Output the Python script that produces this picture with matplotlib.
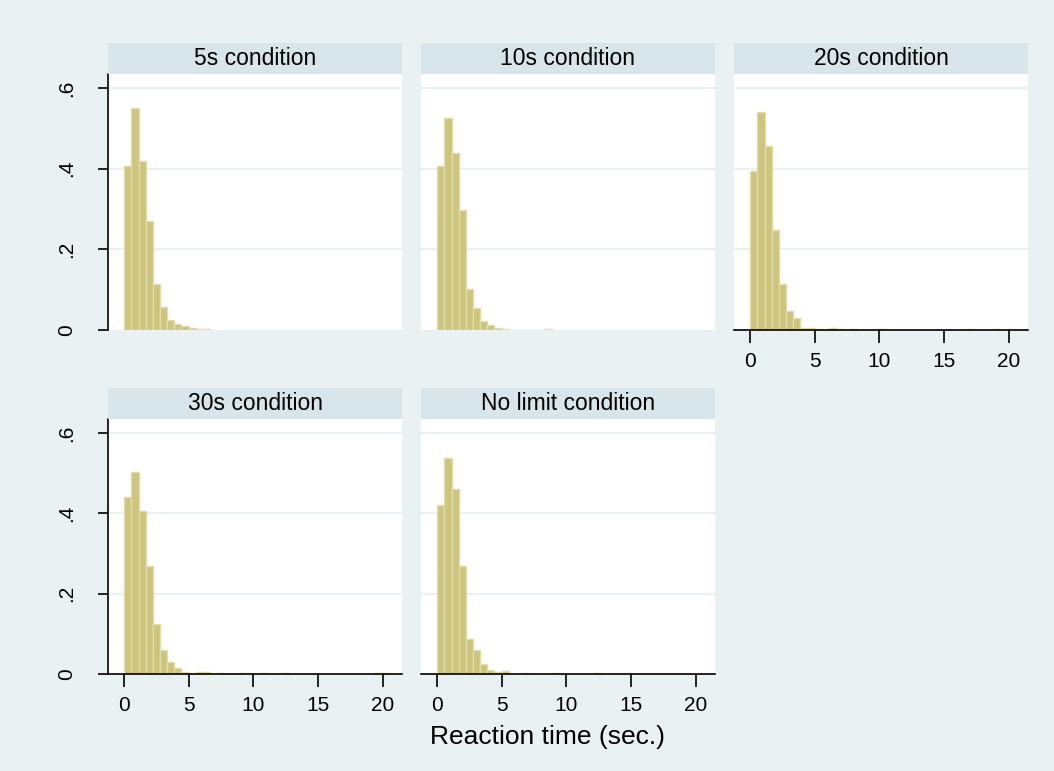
import numpy as np
import matplotlib
matplotlib.use("Agg")
import matplotlib.pyplot as plt

plt.rcParams['font.family'] = ['Liberation Sans', 'DejaVu Sans']

# histogram bins shared by all panels (seconds)
bin_width = 0.553
n_bins = 37

titles = ['5s condition', '10s condition', '20s condition',
          '30s condition', 'No limit condition']

# density per bin (trailing bins are zero)
dens_5s = [0.408, 0.551, 0.419, 0.270, 0.115, 0.058, 0.025, 0.014, 0.010,
           0.005, 0.003, 0.003]
dens_10s = [0.407, 0.526, 0.438, 0.297, 0.101, 0.054, 0.022, 0.012, 0.004,
            0.002, 0.001, 0.001, 0.001, 0.001, 0.001, 0.003]
dens_20s = [0.394, 0.540, 0.456, 0.248, 0.115, 0.048, 0.029, 0.006, 0.005,
            0.003, 0.002, 0.004, 0.002, 0.0, 0.002, 0.0, 0.0, 0.0, 0.002,
            0.0, 0.0, 0.0, 0.0, 0.0, 0.0, 0.0, 0.0, 0.0, 0.0, 0.0, 0.0015,
            0.0, 0.0, 0.0, 0.0015]
dens_30s = [0.440, 0.504, 0.407, 0.268, 0.125, 0.061, 0.030, 0.016, 0.004,
            0.0, 0.006, 0.004, 0.0, 0.0025, 0.0, 0.0, 0.0025, 0.0, 0.0, 0.0025,
            0.0, 0.0, 0.0025, 0.0, 0.0, 0.0, 0.0, 0.0, 0.0, 0.0, 0.0, 0.0,
            0.0, 0.0, 0.0, 0.003, 0.003]
dens_nolimit = [0.421, 0.537, 0.461, 0.269, 0.086, 0.061, 0.026, 0.010, 0.005,
                0.007, 0.0, 0.0, 0.002, 0.0, 0.0, 0.0, 0.002, 0.0, 0.0, 0.0,
                0.0, 0.0, 0.002]

all_dens = [dens_5s, dens_10s, dens_20s, dens_30s, dens_nolimit]

bg = '#eaf1f3'
strip_col = '#d8e5eb'
bar_fill = '#cdc47f'
bar_edge = '#e2dca6'

W, H = 1054, 771
fig = plt.figure(figsize=(W / 100, H / 100), dpi=100, facecolor=bg)

col_left = [108, 421, 734]
panel_w = 294
row_plot = [(74, 330), (419, 674)]   # top, bottom of plot area in px
strip_h = 31

edges = np.arange(n_bins) * bin_width

for i, (title, dens) in enumerate(zip(titles, all_dens)):
    r, c = divmod(i, 3)
    top, bot = row_plot[r]
    x0 = col_left[c]
    ax = fig.add_axes([x0 / W, 1 - bot / H, panel_w / W, (bot - top) / H])
    ax.set_facecolor('white')

    ax.bar(edges[:len(dens)], dens, width=bin_width, align='edge',
           color=bar_fill, edgecolor=bar_edge, linewidth=1, zorder=2)

    ax.set_xlim(-1.26, 21.5)
    ax.set_ylim(0, 0.635)
    ax.set_yticks([0, 0.2, 0.4, 0.6])
    for gy in [0.2, 0.4, 0.6]:
        ax.axhline(gy, color=bg, lw=1.6, zorder=1)

    for s in ax.spines.values():
        s.set_visible(False)

    # left axis only on first column
    if c == 0:
        ax.spines['left'].set_visible(True)
        ax.spines['left'].set_color('black')
        ax.spines['left'].set_linewidth(1.2)
        ax.set_yticklabels(['0', '.2', '.4', '.6'], rotation=90, va='center')
        ax.tick_params(axis='y', length=7, width=1.2, pad=16, labelsize=15)
    else:
        ax.tick_params(axis='y', left=False, labelleft=False)

    # bottom axis on the panels that end a column
    if i >= 2:
        ax.spines['bottom'].set_visible(True)
        ax.spines['bottom'].set_color('black')
        ax.spines['bottom'].set_linewidth(1.2)
        ax.set_xticks([0, 5, 10, 15, 20])
        ax.tick_params(axis='x', length=9, width=1.2, pad=7, labelsize=15)
    else:
        ax.tick_params(axis='x', bottom=False, labelbottom=False)

    # strip with panel title
    sax = fig.add_axes([x0 / W, 1 - top / H, panel_w / W, strip_h / H])
    sax.set_facecolor(strip_col)
    sax.set_xticks([])
    sax.set_yticks([])
    for s in sax.spines.values():
        s.set_visible(False)
    sax.text(0.5, 0.5, title, ha='center', va='center', fontsize=16.5,
             transform=sax.transAxes)

fig.text(548 / W, 1 - 737 / H, 'Reaction time (sec.)', ha='center',
         va='center', fontsize=19)

fig.savefig('out.png', dpi=100, facecolor=bg)
